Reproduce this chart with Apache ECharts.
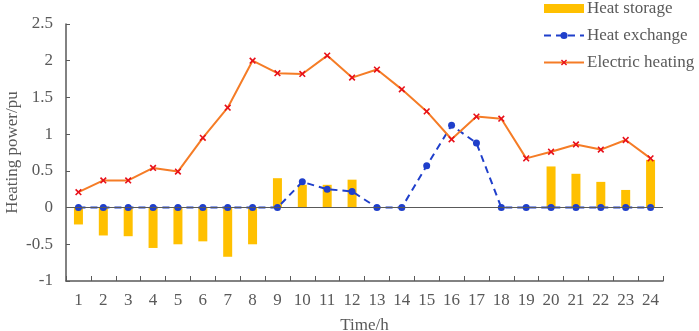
<!DOCTYPE html>
<html>
<head>
<meta charset="utf-8">
<script src="https://cdn.jsdelivr.net/npm/echarts@6/dist/echarts.min.js"></script>
<style>
  html, body { margin: 0; padding: 0; background: #fff; }
  #chart { width: 699px; height: 331px; }
</style>
</head>
<body>
<div id="chart"></div>
<script>
// 时间段
const hours = ["1", "2", "3", "4", "5", "6", "7", "8", "9", "10", "11", "12",
  "13", "14", "15", "16", "17", "18", "19", "20", "21", "22", "23", "24"]

// 储热
const heatStorage = [-0.23, -0.38, -0.39, -0.55, -0.50, -0.46, -0.67, -0.50, 0.40, 0.31, 0.31, 0.38,
  0, 0, 0, 0, 0, 0, 0, 0.56, 0.46, 0.35, 0.24, 0.65]

// 换热
const heatExchange = [0, 0, 0, 0, 0, 0, 0, 0, 0, 0.35, 0.25, 0.22,
  0, 0, 0.57, 1.12, 0.88, 0, 0, 0, 0, 0, 0, 0]

// 电加热
const electricHeating = [0.21, 0.37, 0.37, 0.54, 0.49, 0.95, 1.36, 2.0, 1.83, 1.82, 2.07, 1.77,
  1.88, 1.61, 1.31, 0.93, 1.24, 1.21, 0.67, 0.76, 0.86, 0.79, 0.92, 0.67]

const yTicks = { min: -1, max: 2.5, interval: 0.5 }

const fontFamily = "'Liberation Serif', 'Times New Roman', serif"
const gray = "#595959"
const crossPath = "path://M4,0 H6 V4 H10 V6 H6 V10 H4 V6 H0 V4 H4 Z"

const chart = echarts.init(document.getElementById("chart"))

const option = {
  animation: false,
  textStyle: { fontFamily: fontFamily },
  grid: { left: 66, right: 36, top: 24, bottom: 50, outerBoundsMode: "none", containLabel: false },
  legend: {
    orient: "vertical",
    left: 538,
    top: -5,
    itemWidth: 40,
    itemHeight: 9,
    itemGap: 10,
    textStyle: { color: gray, fontSize: 17, fontFamily: fontFamily, padding: [0, 0, 0, -2] },
    data: [
      { name: "Heat storage", icon: "rect" },
      { name: "Heat exchange" },
      { name: "Electric heating" }
    ]
  },
  xAxis: {
    type: "category",
    data: hours,
    name: "Time/h",
    nameLocation: "middle",
    nameGap: 36,
    nameMoveOverlap: false,
    nameTextStyle: { color: gray, fontSize: 17, fontFamily: fontFamily },
    axisLine: { onZero: false, lineStyle: { color: gray, width: 1.5 } },
    axisTick: { show: true, inside: true, length: 5, lineStyle: { color: gray } },
    axisLabel: { color: gray, fontSize: 17, margin: 11, fontFamily: fontFamily }
  },
  yAxis: {
    type: "value",
    min: yTicks.min,
    max: yTicks.max,
    interval: yTicks.interval,
    name: "Heating power/pu",
    nameLocation: "middle",
    nameGap: 45,
    nameMoveOverlap: false,
    nameTextStyle: { color: gray, fontSize: 17, fontFamily: fontFamily },
    axisLine: { show: true, lineStyle: { color: gray, width: 1.5 } },
    axisTick: { show: true, inside: true, length: 4, lineStyle: { color: gray } },
    splitLine: { show: false },
    axisLabel: { color: gray, fontSize: 17, margin: 13, fontFamily: fontFamily }
  },
  series: [
    {
      name: "Heat storage",
      type: "bar",
      data: heatStorage,
      barWidth: 9,
      itemStyle: { color: "#FFC000" },
      markLine: {
        silent: true,
        symbol: "none",
        label: { show: false },
        lineStyle: { color: gray, type: "solid", width: 1.2 },
        data: [{ yAxis: 0 }]
      }
    },
    {
      name: "Heat exchange",
      type: "line",
      data: heatExchange,
      symbol: "circle",
      symbolSize: 7,
      itemStyle: { color: "#1F3FCB" },
      lineStyle: { color: "#1F3FCB", width: 2, type: [7, 5] }
    },
    {
      name: "Electric heating",
      type: "line",
      data: electricHeating,
      symbol: crossPath,
      symbolSize: 8,
      symbolRotate: 45,
      itemStyle: { color: "#E8101A" },
      lineStyle: { color: "#F57C26", width: 2 }
    }
  ]
}

chart.setOption(option)
</script>
</body>
</html>
